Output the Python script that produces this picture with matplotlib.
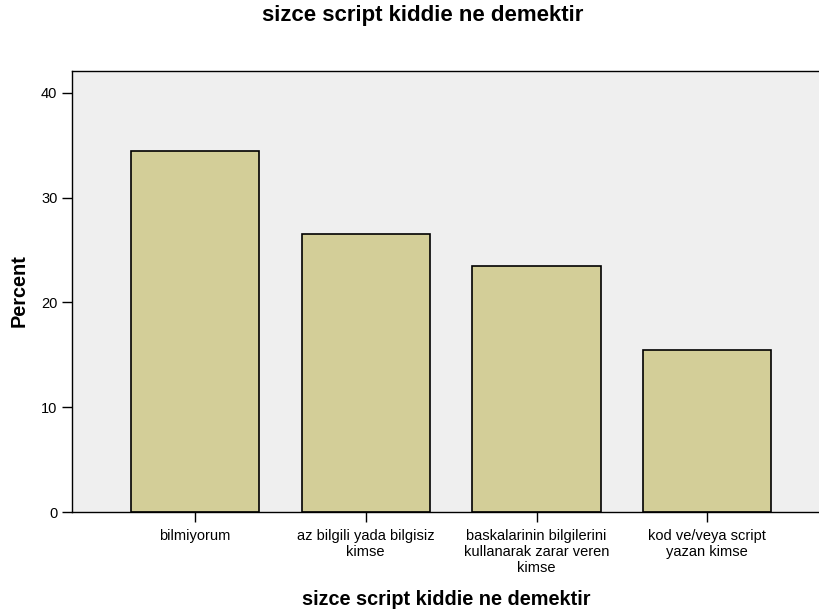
import numpy as np
import matplotlib.pyplot as plt

plt.rcParams['font.family'] = ['Liberation Sans', 'DejaVu Sans']

categories = ['bilmiyorum', 'az bilgili yada bilgisiz\nkimse',
              'baskalarinin bilgilerini\nkullanarak zarar veren\nkimse',
              'kod ve/veya script\nyazan kimse']
percent = [34.5, 26.5, 23.5, 15.5]
yticks = [0, 10, 20, 30, 40]

fig = plt.figure(figsize=(8.2, 6.13), dpi=100)
ax = fig.add_axes([72/820, 101/613, 748/820, 441/613])
ax.set_facecolor('#EFEFEF')

x = np.arange(len(categories))
ax.bar(x, percent, width=0.75, color='#D3CE98', edgecolor='black', linewidth=1.2)

ax.set_xlim(-0.72, 3.66)
ax.set_ylim(0, 42.1)
ax.set_xticks(x)
ax.set_xticklabels(categories, fontsize=10.5, linespacing=1.17)
ax.set_yticks(yticks)
ax.tick_params(axis='both', direction='out', length=7.5, width=1, labelsize=10.5, pad=3)
ax.tick_params(axis='x', pad=5)
ax.spines['right'].set_visible(False)
for s in ['left', 'top', 'bottom']:
    ax.spines[s].set_linewidth(1)

ax.set_xlabel('sizce script kiddie ne demektir', fontsize=14.3, fontweight='bold')
ax.xaxis.set_label_coords(0.501, -0.177)
ax.set_ylabel('Percent', fontsize=14.3, fontweight='bold')
ax.yaxis.set_label_coords(-0.058, 0.501)
fig.suptitle('sizce script kiddie ne demektir', fontsize=16, fontweight='bold',
             x=0.516, y=1 - 15/613, va='center')

plt.savefig('out.png')
